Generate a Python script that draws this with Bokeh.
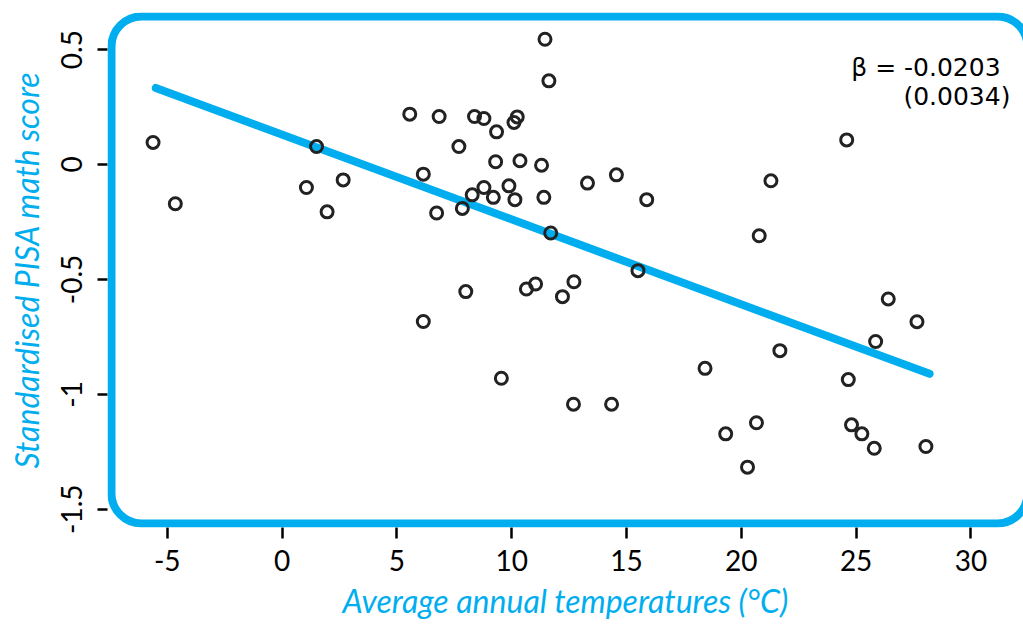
from bokeh.plotting import figure
from bokeh.models import Range1d, BoxAnnotation, Label, FixedTicker
from bokeh.embed import file_html
from bokeh.resources import INLINE

# data
temps = [-5.62, -4.65, 1.06, 1.50, 1.96, 2.66, 5.56, 6.15, 6.15, 6.73,
         6.84, 7.70, 7.85, 8.00, 8.28, 8.38, 8.79, 8.79, 9.20, 9.30,
         9.34, 9.55, 9.88, 10.10, 10.24, 10.14, 10.36, 10.64, 11.04, 11.30,
         11.40, 11.45, 11.62, 11.70, 12.21, 12.69, 12.71, 13.30, 14.56, 14.35,
         15.50, 15.88, 18.42, 19.32, 20.27, 20.66, 20.78, 21.29, 21.68, 24.59,
         24.66, 24.80, 25.25, 25.79, 25.85, 26.40, 27.65, 28.04]
scores = [0.096, -0.171, -0.100, 0.078, -0.206, -0.067, 0.219, -0.042, -0.683, -0.211,
          0.209, 0.078, -0.191, -0.553, -0.132, 0.209, 0.200, -0.100, -0.143, 0.012,
          0.142, -0.930, -0.093, 0.183, 0.207, -0.153, 0.016, -0.542, -0.520, -0.003,
          -0.143, 0.545, 0.364, -0.298, -0.575, -1.043, -0.510, -0.081, -0.045, -1.043,
          -0.462, -0.153, -0.887, -1.172, -1.317, -1.124, -0.310, -0.071, -0.810, 0.107,
          -0.936, -1.133, -1.172, -1.235, -0.770, -0.585, -0.684, -1.227]
fit_x = [-5.5, 28.2]
fit_y = [0.333, -0.911]
x_ticks = [-5, 0, 5, 10, 15, 20, 25, 30]
x_tick_labels = ["-5", "0", "5", "10", "15", "20", "25", "30"]
y_ticks = [-1.5, -1.0, -0.5, 0.0, 0.5]
y_tick_labels = ["-1.5", "-1", "-0.5", "0", "0.5"]
x_title = "Average annual temperatures (°C)"
y_title = "Standardised PISA math score"
beta_text = "β = -0.0203"
se_text = "(0.0034)"

BLUE = "#00AEEF"
FONT = "Lato"

p = figure(width=1023, height=624, output_backend="svg", toolbar_location=None,
           x_range=Range1d(-7.604, 32.29), y_range=Range1d(-1.5796, 0.6614),
           min_border_left=107, min_border_right=0, min_border_top=12,
           min_border_bottom=97)
p.outline_line_color = None
p.grid.grid_line_color = None
p.background_fill_color = "white"
p.border_fill_color = "white"

for ax, ticks, labels in ((p.xaxis[0], x_ticks, x_tick_labels), (p.yaxis[0], y_ticks, y_tick_labels)):
    ax.ticker = FixedTicker(ticks=ticks)
    ax.major_label_overrides = {t: l for t, l in zip(ticks, labels)}
    ax.axis_line_color = None
    ax.minor_tick_line_color = None
    ax.major_tick_line_color = "black"
    ax.major_tick_line_width = 2.5
    ax.major_tick_in = 0
    ax.major_label_text_font = FONT
    ax.major_label_text_font_size = "28px"
    ax.major_label_text_color = "black"
    ax.axis_label_text_font = FONT
    ax.axis_label_text_font_style = "italic"
    ax.axis_label_text_font_size = "32px"
    ax.axis_label_text_color = BLUE

p.xaxis.major_tick_out = 11
p.xaxis.major_label_standoff = 11
p.xaxis.axis_label = x_title
p.xaxis.axis_label_standoff = 7

p.yaxis.major_tick_out = 10
p.yaxis.major_label_orientation = "vertical"
p.yaxis.major_label_standoff = 15
p.yaxis.axis_label = y_title
p.yaxis.axis_label_standoff = 13

# rounded blue frame (drawn just inside the plotting area)
box = BoxAnnotation(left=-7.43, right=32.46, top=0.644, bottom=-1.562,
                    fill_color=None, fill_alpha=0, line_color=BLUE, line_alpha=1.0,
                    line_width=8, border_radius=30, level="overlay")
p.add_layout(box)

p.line(fit_x, fit_y, line_color=BLUE, line_width=8, line_cap="round")
p.scatter(temps, scores, marker="circle", size=12, fill_color=None,
          line_color="#222222", line_width=3)

p.add_layout(Label(x=31.29, y=0.422, text=beta_text, text_align="right",
                   text_baseline="alphabetic", text_font="DejaVu Sans",
                   text_font_size="25px", text_color="black"))
p.add_layout(Label(x=31.72, y=0.296, text=se_text, text_align="right",
                   text_baseline="alphabetic", text_font="DejaVu Sans",
                   text_font_size="25px", text_color="black"))

open("out.html", "w").write(file_html(p, INLINE))
